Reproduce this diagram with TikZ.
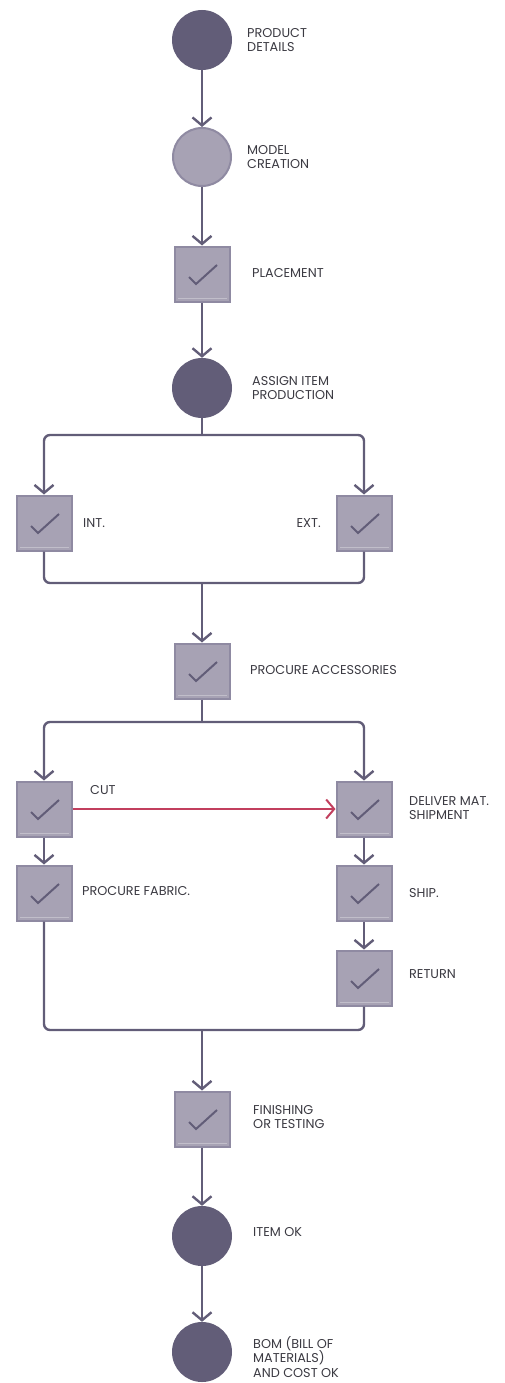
\documentclass[tikz,border=0pt]{standalone}
\usepackage{fontspec}
\setmainfont{Poppins}
\usetikzlibrary{%
  arrows.meta,%
  calc%
}

\definecolor{ink}{HTML}{625D78}
\definecolor{boxfill}{HTML}{A7A2B4}
\definecolor{boxedge}{HTML}{8F8AA2}
\definecolor{cutred}{HTML}{C23F5E}
\definecolor{txt}{HTML}{3B3A42}

\tikzset{
  line/.style={ink, line width=2.4pt},
  arr/.style={line, -{Straight Barb[length=8pt,width=19pt]}},
  stage/.style={circle, fill=ink, minimum size=60pt, inner sep=0pt},
  stagelight/.style={circle, fill=boxfill, draw=boxedge, line width=2pt, minimum size=58pt, inner sep=0pt},
  task/.style={rectangle, fill=boxfill, draw=boxedge, line width=2pt, minimum size=55pt, inner sep=0pt,
    path picture={
      \draw[boxfill!70!white, line width=0.8pt] ($(path picture bounding box.south west)+(3,-3)$) -- ($(path picture bounding box.south east)+(-3,-3)$);
      \draw[ink, line width=2pt] ($(path picture bounding box.center)+(-13,3)$) -- ++(7,7) -- ++(21,-19);
    }},
  lbl/.style={anchor=west, align=left, text=txt, font=\fontsize{12.8}{14.8}\selectfont, inner sep=0pt},
}

\begin{document}
\begin{tikzpicture}[x=1pt,y=-1pt]
  \useasboundingbox (0,0) rectangle (505,1383);

  % stages and tasks
  \node[stage] (details) at (202,40) {};
  \node[stagelight] (model) at (202,157) {};
  \node[task] (place) at (202,274) {};
  \node[stage] (assign) at (202,388) {};
  \node[task] (int) at (44,523) {};
  \node[task] (ext) at (364,523) {};
  \node[task] (access) at (202,671) {};
  \node[task] (cut) at (44,809) {};
  \node[task] (deliver) at (364,809) {};
  \node[task] (fabric) at (44,893) {};
  \node[task] (ship) at (364,893) {};
  \node[task] (ret) at (364,978) {};
  \node[task] (finish) at (202,1119) {};
  \node[stage] (itemok) at (202,1236) {};
  \node[stage] (bom) at (202,1352) {};

  % labels
  \node[lbl] (lbldetails) at (247,40) {PRODUCT\\DETAILS};
  \node[lbl] (lblmodel) at (247,157) {MODEL\\CREATION};
  \node[lbl] (lblplace) at (252,273) {PLACEMENT};
  \node[lbl] (lblassign) at (252,388) {ASSIGN ITEM\\PRODUCTION};
  \node[lbl] (lblint) at (83,523) {INT.};
  \node[lbl,anchor=east] (lblext) at (321,523) {EXT.};
  \node[lbl] (lblaccess) at (250,670) {PROCURE ACCESSORIES};
  \node[lbl] (lblcut) at (90,790) {CUT};
  \node[lbl] (lbldeliver) at (409,808) {DELIVER MAT.\\SHIPMENT};
  \node[lbl] (lblfabric) at (82,891) {PROCURE FABRIC.};
  \node[lbl] (lblship) at (409,893) {SHIP.};
  \node[lbl] (lblret) at (409,974) {RETURN};
  \node[lbl] (lblfinish) at (253,1117) {FINISHING\\OR TESTING};
  \node[lbl] (lblitemok) at (253,1232) {ITEM OK};
  \node[lbl] (lblbom) at (253,1357) {BOM (BILL OF\\MATERIALS)\\AND COST OK};

  % split and join points
  \coordinate (split1) at (202,435);
  \coordinate (join1) at (202,583);
  \coordinate (split2) at (202,722);
  \coordinate (join2) at (202,1030);

  % connectors
  \draw[arr] (details) -- (model);
  \draw[arr] (model) -- (place);
  \draw[arr] (place) -- (assign);
  \draw[line] (assign) -- (split1);
  \draw[arr,rounded corners=6pt] (split1) -| (int);
  \draw[arr,rounded corners=6pt] (split1) -| (ext);
  \draw[line,rounded corners=6pt] (int) |- (join1) -| (ext);
  \draw[arr] (join1) -- (access);
  \draw[line] (access) -- (split2);
  \draw[arr,rounded corners=6pt] (split2) -| (cut);
  \draw[arr,rounded corners=6pt] (split2) -| (deliver);
  \draw[arr,cutred,line width=2pt] (cut) -- (deliver);
  \draw[arr] (cut) -- (fabric);
  \draw[arr] (deliver) -- (ship);
  \draw[arr] (ship) -- (ret);
  \draw[line,rounded corners=6pt] (fabric) |- (join2) -| (ret);
  \draw[arr] (join2) -- (finish);
  \draw[arr] (finish) -- (itemok);
  \draw[arr] (itemok) -- (bom);
\end{tikzpicture}
\end{document}
